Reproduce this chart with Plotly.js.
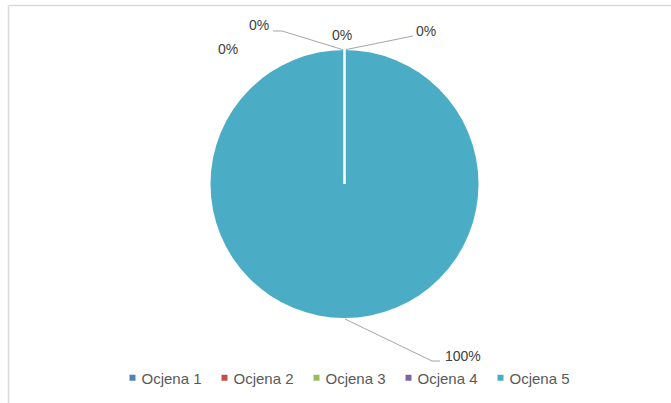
<!DOCTYPE html>
<html>
<head>
<meta charset="utf-8">
<script src="https://cdn.plot.ly/plotly-3.0.1.min.js"></script>
<style>html,body{margin:0;padding:0;background:#fff}#chart{width:671px;height:403px}</style>
</head>
<body>
<div id="chart"></div>
<script>
const categories = ['Ocjena 1', 'Ocjena 2', 'Ocjena 3', 'Ocjena 4', 'Ocjena 5'];
const values = [0, 0, 0, 0, 100];
const colors = ['#4F81BD', '#C0504D', '#9BBB59', '#8064A2', '#4BACC6'];

const W = 671, H = 403;
const px = x => x / W;
const py = y => 1 - y / H;

// pie geometry (pixels)
const cx = 344.5, cy = 184, R = 134;

// label positions (pixels) for each category
const labelPos = [[342, 35], [426, 31], [259, 25], [228, 49], [463, 356]];
// leader lines (pixels) for some labels
const leaders = [
  [[344, 50], [282, 31], [273, 31]],
  [[344, 50], [413, 36]],
  [[345, 319], [432, 361], [440, 361]]
];
// legend layout (pixels): first symbol centre and spacing between entries
const legendX0 = 132.5, legendStep = 92;

const total = values.reduce((a, b) => a + b, 0);
const pctText = values.map(v => Math.round(v / total * 100) + '%');

const font = 'Liberation Sans, Arial, sans-serif';

const annotations = categories.map((c, i) => ({
  xref: 'paper', yref: 'paper',
  x: px(labelPos[i][0]), y: py(labelPos[i][1]),
  xanchor: 'center', yanchor: 'middle',
  text: pctText[i], showarrow: false,
  font: {family: font, size: 14, color: '#404040'}
}));

const shapes = leaders.map(pts => ({
  type: 'path', xref: 'paper', yref: 'paper',
  path: pts.map((p, k) => (k ? 'L' : 'M') + px(p[0]) + ',' + py(p[1])).join(' '),
  line: {color: '#A6A6A6', width: 1}
}));
// white separator from center to the slice start (top)
shapes.push({type: 'line', xref: 'paper', yref: 'paper', x0: px(cx), y0: py(cy), x1: px(cx), y1: py(cy - R - 1), line: {color: '#FFFFFF', width: 2.5}, layer: 'above'});
// chart area border (top + left)
shapes.push({type: 'line', xref: 'paper', yref: 'paper', x0: px(8.5), y0: py(5.5), x1: px(W + 5), y1: py(5.5), line: {color: '#D9D9D9', width: 1.5}});
shapes.push({type: 'line', xref: 'paper', yref: 'paper', x0: px(8.5), y0: py(5.5), x1: px(8.5), y1: py(H + 5), line: {color: '#D9D9D9', width: 1.5}});

const data = [{
  type: 'pie',
  labels: categories,
  values: values,
  sort: false,
  direction: 'clockwise',
  rotation: 0,
  marker: {colors: colors, line: {width: 0}},
  textinfo: 'none',
  hoverinfo: 'none',
  domain: {x: [px(cx - R), px(cx + R)], y: [py(cy + R), py(cy - R)]}
}];

const layout = {
  width: W, height: H,
  margin: {l: 0, r: 0, t: 0, b: 0},
  paper_bgcolor: '#FFFFFF',
  showlegend: true,
  legend: {
    orientation: 'h', xanchor: 'center', yanchor: 'middle',
    x: px(338), y: py(378),
    entrywidth: 64,
    font: {family: font, size: 15, color: '#595959'},
    traceorder: 'normal'
  },
  annotations: annotations,
  shapes: shapes
};

Plotly.newPlot('chart', data, layout, {staticPlot: true}).then(() => {
  const root = document.getElementById('chart').getBoundingClientRect();
  document.querySelectorAll('.legend .traces').forEach((g, i) => {
    const p = g.querySelector('.legendpoints path');
    if (p) p.setAttribute('d', 'M14,3H8V-3H14Z');
    const r = p.getBoundingClientRect();
    const cur = r.left + r.width / 2 - root.left;
    const dx = legendX0 + i * legendStep - cur;
    const t = g.getAttribute('transform') || 'translate(0,0)';
    const m = t.match(/translate\(\s*([-\d.e]+)[ ,]+([-\d.e]+)\s*\)/);
    const tx = m ? parseFloat(m[1]) : 0, ty = m ? parseFloat(m[2]) : 0;
    g.setAttribute('transform', 'translate(' + (tx + dx) + ',' + ty + ')');
  });
});
</script>
</body>
</html>
